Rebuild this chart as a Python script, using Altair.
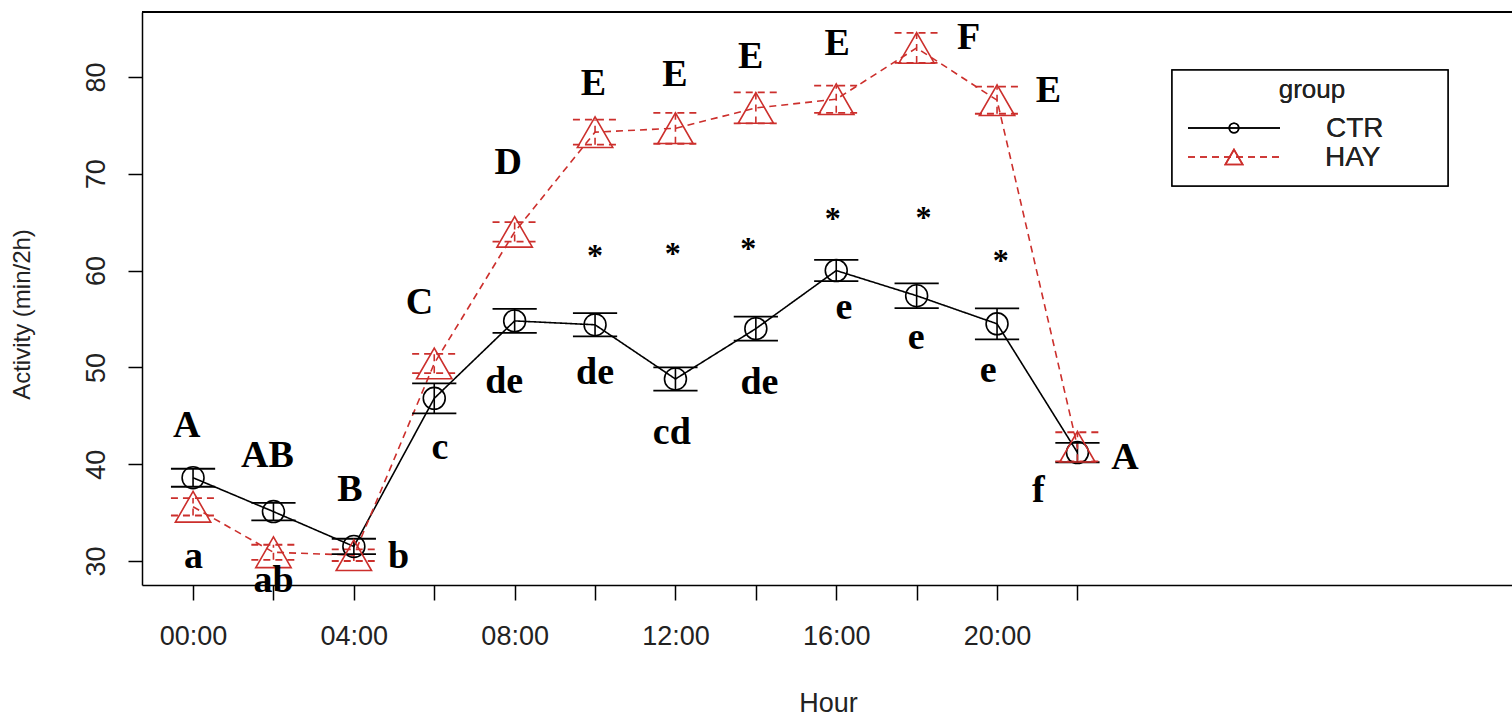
import altair as alt
import pandas as pd

# ---------------- data ----------------
hours = [0, 2, 4, 6, 8, 10, 12, 14, 16, 18, 20, 22]
ctr_mean = [38.6, 35.1, 31.5, 46.8, 54.8, 54.4, 48.8, 54.0, 60.0, 57.4, 54.5, 41.2]
ctr_se = [0.93, 0.9, 0.8, 1.55, 1.24, 1.2, 1.2, 1.24, 1.1, 1.27, 1.6, 1.0]
hay_mean = [35.6, 30.9, 30.6, 50.4, 64.0, 74.3, 74.7, 76.8, 77.7, 83.0, 77.6, 41.8]
hay_se = [0.9, 0.78, 0.6, 1.0, 1.0, 1.3, 1.6, 1.6, 1.4, 1.55, 1.4, 1.5]
groups = ["CTR", "HAY"]

tick_hours = [0, 2, 4, 6, 8, 10, 12, 14, 16, 18, 20, 22]
tick_labels = ["00:00", "", "04:00", "", "08:00", "", "12:00", "", "16:00", "", "20:00", ""]
y_ticks = [30, 40, 50, 60, 70, 80]

# letters for HAY (upper case) and CTR (lower case), asterisks
upper_text = ["A", "AB", "B", "C", "D", "E", "E", "E", "E", "F", "E", "A"]
upper_hour = [-0.16, 1.85, 3.9, 5.63, 7.84, 9.96, 11.99, 13.87, 16.02, 19.29, 21.28, 23.18]
upper_val = [43.9, 40.8, 37.3, 56.6, 71.1, 79.3, 80.2, 82.1, 83.4, 84.0, 78.5, 40.6]
lower_text = ["a", "ab", "b", "c", "de", "de", "cd", "de", "e", "e", "e", "f"]
lower_hour = [0.01, 2.0, 5.11, 6.14, 7.74, 10.0, 11.91, 14.09, 16.19, 17.99, 19.78, 21.03]
lower_val = [30.4, 27.9, 30.4, 41.7, 48.5, 49.4, 43.2, 48.4, 56.1, 53.0, 49.6, 37.2]
star_hour = [10.0, 11.93, 13.81, 15.91, 18.17, 20.09]
star_val = [62.1, 62.3, 62.8, 65.9, 66.1, 61.6]

# ---------------- build tables ----------------
rows = []
for g, m, s in (("CTR", ctr_mean, ctr_se), ("HAY", hay_mean, hay_se)):
    for h, mv, sv in zip(hours, m, s):
        rows.append({"group": g, "hour": h, "mean": mv, "se": sv})
df = pd.DataFrame(rows)
ann = pd.DataFrame(
    [{"t": t, "hour": h, "val": v} for t, h, v in zip(upper_text, upper_hour, upper_val)]
    + [{"t": t, "hour": h, "val": v} for t, h, v in zip(lower_text, lower_hour, lower_val)]
)
stars = pd.DataFrame({"t": ["*"] * len(star_hour), "hour": star_hour, "val": star_val})

W, H = 1370, 573
RED = "#CC2F2C"
CAP = 0.55

xs = alt.Scale(domain=[-1.27, 32.81], nice=False, zero=False)
ys = alt.Scale(domain=[27.52, 86.71], nice=False, zero=False)
col = alt.Color("group:N", scale=alt.Scale(domain=groups, range=["#000000", RED]), legend=None)
dash = alt.StrokeDash("group:N", scale=alt.Scale(domain=groups, range=[[1, 0], [7, 5]]), legend=None)

label_expr = "[" + ",".join("'%s'" % l for l in tick_labels) + "][datum.value/2]"

x_enc = alt.X(
    "hour:Q", scale=xs,
    axis=alt.Axis(
        values=tick_hours, labelExpr=label_expr, title="Hour", grid=False,
        tickSize=15, labelPadding=23, labelFontSize=27, titleFontSize=27,
        labelFont="Liberation Sans", titleFont="Liberation Sans", titleFontWeight="normal",
        labelColor="#222222", titleColor="#222222", domainColor="#000000", tickColor="#000000",
        domainWidth=1.5, tickWidth=1.5, labelOverlap=False, labelFlush=False,
        titleX=686, titleY=118, titleBaseline="middle", titleAnchor="middle",
    ),
)
y_enc = alt.Y(
    "mean:Q", scale=ys,
    axis=alt.Axis(
        values=y_ticks, title="Activity (min/2h)", grid=False, tickSize=14,
        labelAngle=-90, labelAlign="center", labelBaseline="bottom", labelPadding=18,
        labelFontSize=27, titleFontSize=24, labelFont="Liberation Sans", titleFont="Liberation Sans",
        titleFontWeight="normal", labelColor="#222222", titleColor="#222222",
        domainColor="#000000", tickColor="#000000", domainWidth=1.5, tickWidth=1.5,
        titleAngle=-90, titleX=-120, titleY=302, titleAlign="center", titleBaseline="middle",
    ),
)

base = alt.Chart(df).transform_calculate(
    lo="datum.mean - datum.se", hi="datum.mean + datum.se",
    xl="datum.hour - %f" % CAP, xr="datum.hour + %f" % CAP,
)

lines = base.mark_line(strokeWidth=1.6).encode(x=x_enc, y=y_enc, color=col, strokeDash=dash)
points = base.mark_point(filled=False, strokeWidth=1.6, opacity=1).encode(
    x="hour:Q", y="mean:Q", color=col,
    shape=alt.Shape("group:N", scale=alt.Scale(domain=groups, range=["circle", "triangle-up"]), legend=None),
    size=alt.Size("group:N", scale=alt.Scale(domain=groups, range=[480, 1250]), legend=None),
)
vbars = base.mark_rule(strokeWidth=1.6).encode(
    x="hour:Q", y="lo:Q", y2="hi:Q", color=col, strokeDash=dash)
cap_lo = base.mark_rule(strokeWidth=1.8).encode(
    x="xl:Q", x2="xr:Q", y="lo:Q", color=col, strokeDash=dash)
cap_hi = base.mark_rule(strokeWidth=1.8).encode(
    x="xl:Q", x2="xr:Q", y="hi:Q", color=col, strokeDash=dash)

letters = alt.Chart(ann).mark_text(
    font="Liberation Serif", fontWeight="bold", fontSize=38, color="#000000",
    align="center", baseline="middle",
).encode(x="hour:Q", y="val:Q", text="t:N")
asterisks = alt.Chart(stars).mark_text(
    font="Liberation Serif", fontWeight="bold", fontSize=32, color="#000000",
    align="center", baseline="middle", dy=6,
).encode(x="hour:Q", y="val:Q", text="t:N")

# top border of the plot box
top_border = alt.Chart(df).mark_rule(color="#000000", strokeWidth=1.5).encode(
    x=alt.value(0), x2=alt.value(W), y=alt.value(0))

# ---------------- legend (drawn in pixel space) ----------------
leg_df = pd.DataFrame({"group": groups, "row": [0, 1]})
LX0, LX1, LY0, LY1 = 1030, 1306, 58, 174
leg_box = alt.Chart(leg_df).mark_rect(fill="white", stroke="#000000", strokeWidth=1.5).encode(
    x=alt.value(LX0), x2=alt.value(LX1), y=alt.value(LY0), y2=alt.value(LY1))
leg_title = alt.Chart(leg_df).mark_text(
    text="group", font="Liberation Sans", fontSize=26, color="#222222", align="center", baseline="middle"
).encode(x=alt.value(1170), y=alt.value(78))
leg_line_ctr = alt.Chart(leg_df).mark_rule(color="#000000", strokeWidth=1.6).encode(
    x=alt.value(1046), x2=alt.value(1138), y=alt.value(116))
leg_line_hay = alt.Chart(leg_df).mark_rule(color=RED, strokeWidth=1.6, strokeDash=[7, 5]).encode(
    x=alt.value(1046), x2=alt.value(1138), y=alt.value(145))
leg_pt_ctr = alt.Chart(leg_df).mark_point(
    shape="circle", filled=False, color="#000000", size=90, strokeWidth=1.6, opacity=1
).encode(x=alt.value(1092), y=alt.value(116))
leg_pt_hay = alt.Chart(leg_df).mark_point(
    shape="triangle-up", filled=False, color=RED, size=300, strokeWidth=1.6, opacity=1
).encode(x=alt.value(1092), y=alt.value(145))
leg_lab_ctr = alt.Chart(leg_df).mark_text(
    text="CTR", font="Liberation Sans", fontSize=28, color="#222222", align="left", baseline="middle"
).encode(x=alt.value(1184), y=alt.value(117))
leg_lab_hay = alt.Chart(leg_df).mark_text(
    text="HAY", font="Liberation Sans", fontSize=28, color="#222222", align="left", baseline="middle"
).encode(x=alt.value(1183), y=alt.value(146))

chart = alt.layer(
    lines, vbars, cap_lo, cap_hi, points, letters, asterisks, top_border,
    leg_box, leg_title, leg_line_ctr, leg_line_hay, leg_pt_ctr, leg_pt_hay, leg_lab_ctr, leg_lab_hay,
).properties(
    width=W, height=H,
    padding={"left": 142, "top": 12, "right": 0, "bottom": 137},
    autosize=alt.AutoSizeParams(type="none"),
    background="white",
).configure_view(stroke=None)

chart.save("out.html", embed_options={"renderer": "svg", "actions": False})
